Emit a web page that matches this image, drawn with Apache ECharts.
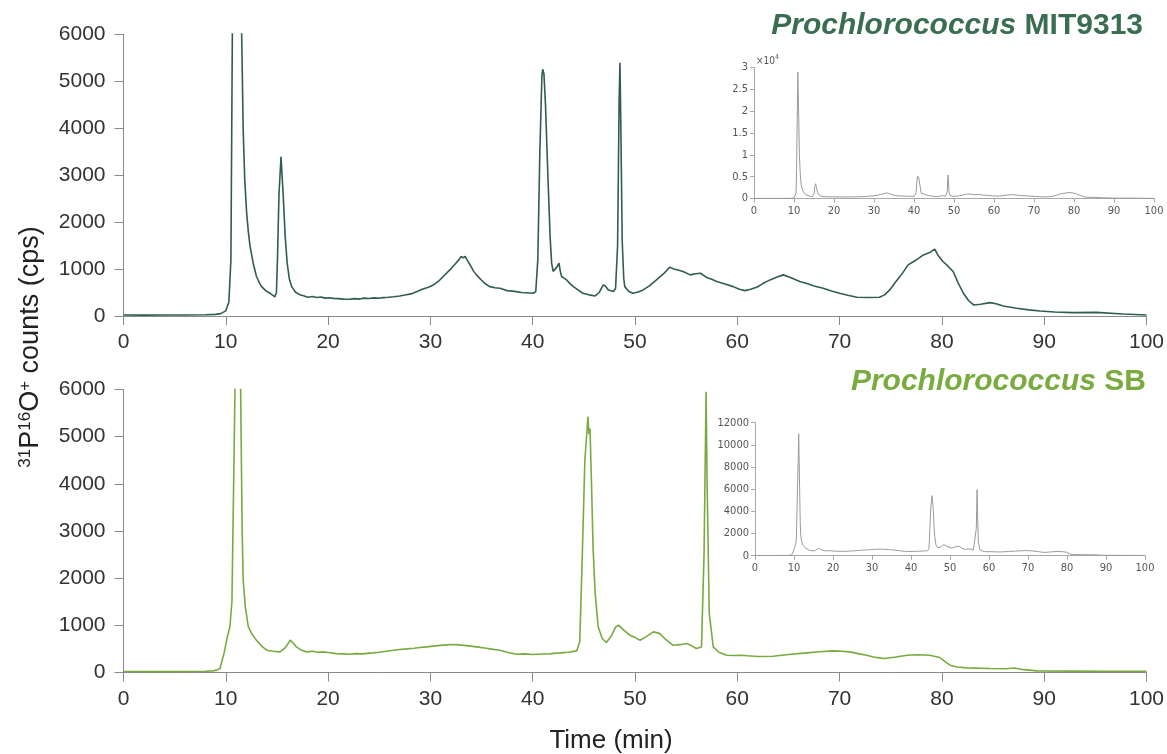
<!DOCTYPE html>
<html>
<head>
<meta charset="utf-8">
<script src="https://cdn.jsdelivr.net/npm/echarts@6/dist/echarts.min.js"></script>
<style>
html,body{margin:0;padding:0;background:#fff;}
#chart{width:1167px;height:754px;}
</style>
</head>
<body>
<div id="chart"></div>
<script>
// ---- Data ----
// Prochlorococcus MIT9313: retention time (min) and 31P16O+ counts (cps)
const timeMIT = [0,2,4,6,8,9,9.5,10,10.3,10.5,10.64,10.8,10.95,11.15,11.35,11.55,11.7,11.85,12.04,12.2,12.37,12.7,13.0,13.3,13.5,13.9,14.3,14.6,14.8,14.95,15.05,15.2,15.4,15.5,15.62,15.8,16.0,16.2,16.44,16.8,17.25,17.6,18.0,18.5,18.9,19.3,19.7,20.1,20.5,21.0,21.5,22.1,22.6,23.1,23.5,24.0,24.5,25.0,25.4,25.9,26.4,27.0,27.5,28.1,28.7,29.2,29.8,30.3,30.8,31.3,31.9,32.4,32.8,33.0,33.2,33.4,33.6,33.9,34.2,34.5,35.0,35.4,35.8,36.3,36.8,37.5,38.0,38.4,38.9,39.4,40.06,40.3,40.5,40.7,40.9,40.98,41.1,41.25,41.5,41.7,41.85,42.0,42.18,42.4,42.57,42.7,42.83,43.1,43.3,43.6,43.97,44.4,44.9,45.5,46.1,46.5,46.9,47.1,47.4,47.9,48.1,48.3,48.45,48.53,48.62,48.75,48.9,49.0,49.4,49.8,50.3,50.8,51.4,52.1,52.8,53.4,53.8,54.2,54.7,55.4,55.9,56.4,57.0,57.5,58.0,58.8,59.6,60.2,60.75,61.3,61.9,62.5,63.2,63.9,64.5,65.2,66.1,66.8,67.5,68.4,69.2,70.0,70.8,71.7,72.8,73.9,74.4,74.9,75.4,75.9,76.3,76.7,77.4,78.2,78.8,79.3,79.6,80.1,80.6,81.1,81.6,82.1,82.6,83.1,83.8,84.7,85.3,86.0,87.3,88.5,89.6,91.0,92.8,95.1,97.7,100];
const countsMIT = [20,18,22,20,25,35,50,110,300,1200,6000,18000,29000,20000,10000,6000,3970,2900,2190,1800,1480,1100,840,700,625,540,485,440,410,500,1200,2600,3385,3000,2545,1700,1125,800,625,510,450,430,400,415,395,405,380,390,375,370,360,356,370,360,380,372,385,378,391,400,410,426,445,470,520,570,610,660,740,850,980,1100,1200,1265,1240,1270,1190,1080,960,875,760,680,625,600,590,540,530,519,500,495,484,520,1200,3500,5100,5250,5150,4500,2900,1700,1125,950,910,1050,1125,950,840,800,770,700,625,560,484,450,426,500,660,640,555,519,590,1500,4600,5390,4000,1600,800,625,520,484,510,555,640,768,900,1040,1000,980,946,875,900,910,820,780,732,680,625,570,540,570,612,690,768,830,875,820,732,690,640,590,530,484,440,400,395,399,450,555,700,838,960,1088,1180,1300,1350,1422,1300,1160,1060,946,700,484,330,235,250,284,260,213,164,130,107,85,71,78,43,21];

// Prochlorococcus SB
const timeSB = [0,3,6,8,8.75,9.1,9.43,9.82,10.15,10.4,10.6,10.9,11.1,11.2,11.3,11.45,11.6,11.7,11.9,12.2,12.6,13.0,13.5,14.0,14.6,15.3,15.8,16.3,16.6,16.9,17.4,17.9,18.5,19.0,19.5,20.2,20.8,21.5,22.1,22.7,23.4,24.0,24.4,25.0,25.7,26.4,27.0,27.7,28.4,29.0,29.6,30.3,31.0,31.6,32.2,32.8,33.5,34.5,35.3,36.0,36.8,37.5,38.4,39.2,40.0,40.8,41.7,42.2,42.7,43.5,44.3,44.6,44.85,45.1,45.3,45.4,45.5,45.6,45.75,45.9,46.1,46.4,46.8,47.2,47.7,48.1,48.4,48.9,49.5,50.0,50.5,51.1,51.8,52.4,53.0,53.7,54.4,55.05,55.5,56.0,56.5,56.75,56.95,57.05,57.26,57.65,58.2,58.96,59.7,60.3,61.0,62.0,63.5,65.0,66.8,68.0,69.4,70.2,71.0,71.8,72.65,73.5,74.4,75.5,76.6,77.7,78.8,79.8,80.3,80.8,81.5,82.4,84.7,86.3,87.1,88.0,89.3,92.8,96,100];
const countsSB = [20,18,22,25,35,50,85,400,755,970,1500,6000,9000,11000,9000,6000,3000,1960,1400,970,800,685,560,473,450,437,520,685,620,543,470,437,450,430,437,420,400,395,388,400,395,410,416,430,450,470,487,500,515,530,543,560,575,585,594,585,570,543,520,495,473,430,388,395,380,392,395,410,416,430,458,650,2500,4500,5100,5419,5050,5173,4000,2663,1700,967,720,636,780,960,1003,900,791,740,685,760,861,830,700,579,590,615,570,509,540,2500,5950,4000,1251,543,430,367,360,367,355,340,346,380,416,440,458,450,437,400,367,320,297,330,367,375,367,318,230,155,115,98,85,80,95,60,34,30,28,25];

// Axis tick labels
const insetMITTicks = ['0','0.5','1','1.5','2','2.5','3'];

const titleMIT = ['Prochlorococcus', 'MIT9313'];
const titleSB = ['Prochlorococcus', 'SB'];

// ---- Styling ----
const FONT = '"Liberation Sans", Arial, Helvetica, sans-serif';
const NARROW = '"Liberation Sans Narrow", "Arial Narrow", "DejaVu Sans Condensed", "Liberation Sans", sans-serif';
const colMIT = '#2f5e4b';
const colSB = '#79aa40';
const titleColMIT = '#3b6e50';
const titleColSB = '#7aab3e';
const plain = (v) => String(v);

const zip = (t, v) => t.map((x, i) => [x, v[i]]);
const dataMIT = zip(timeMIT, countsMIT);
const dataSB = zip(timeSB, countsSB);

function mainX(gi) {
  return {
    type: 'value', gridIndex: gi, min: 0, max: 100, interval: 10,
    axisLine: { show: true, lineStyle: { color: '#8a8a8a', width: 1 } },
    axisTick: { show: true, length: 9, lineStyle: { color: '#8a8a8a' } },
    axisLabel: { margin: 16, fontSize: 21, color: '#333', fontFamily: FONT, formatter: plain },
    splitLine: { show: false }
  };
}
function mainY(gi) {
  return {
    type: 'value', gridIndex: gi, min: 0, max: 6000, interval: 1000,
    axisLine: { show: true, lineStyle: { color: '#8a8a8a', width: 1 } },
    axisTick: { show: true, length: 9, lineStyle: { color: '#8a8a8a' } },
    axisLabel: { margin: 18, fontSize: 21, color: '#333', fontFamily: FONT, formatter: plain },
    splitLine: { show: false }
  };
}
function insetX(gi) {
  return {
    type: 'value', gridIndex: gi, min: 0, max: 100, interval: 10,
    axisLine: { show: true, onZero: false, lineStyle: { color: '#a8a8a8', width: 1 } },
    axisTick: { show: true, length: 4, lineStyle: { color: '#a8a8a8' } },
    axisLabel: { margin: 7, fontSize: 11, color: '#555', fontFamily: NARROW, formatter: plain },
    splitLine: { show: false }
  };
}

const option = {
  animation: false,
  backgroundColor: '#fff',
  grid: [
    { left: 123.5, right: 20.5, top: 34, height: 282 },
    { left: 123.5, right: 20.5, top: 389.5, height: 283 },
    { left: 754, width: 400, top: 67.5, height: 131 },
    { left: 755, width: 390, top: 422.7, height: 133 }
  ],
  xAxis: [mainX(0), mainX(1), insetX(2), insetX(3)],
  yAxis: [
    mainY(0), mainY(1),
    {
      type: 'value', gridIndex: 2, min: 0, max: 30000, interval: 5000,
      name: '{a|×10}{s|4}', nameLocation: 'end', nameGap: 1,
      nameTextStyle: { align: 'left', verticalAlign: 'bottom', padding: [0, 0, 0, 2],
        rich: { a: { fontSize: 10, color: '#555', fontFamily: NARROW, padding: [3, 0, 0, 0] },
                s: { fontSize: 7, color: '#555', fontFamily: NARROW, padding: [0, 0, 6, 0] } } },
      axisLine: { show: true, lineStyle: { color: '#a8a8a8', width: 1 } },
      axisTick: { show: true, length: 4, lineStyle: { color: '#a8a8a8' } },
      axisLabel: { margin: 6, fontSize: 11, color: '#555', fontFamily: NARROW,
        formatter: (v) => insetMITTicks[Math.round(v / 5000)] },
      splitLine: { show: false }
    },
    {
      type: 'value', gridIndex: 3, min: 0, max: 12000, interval: 2000,
      axisLine: { show: true, lineStyle: { color: '#a8a8a8', width: 1 } },
      axisTick: { show: true, length: 4, lineStyle: { color: '#a8a8a8' } },
      axisLabel: { margin: 6, fontSize: 11, color: '#555', fontFamily: NARROW, formatter: plain },
      splitLine: { show: false }
    }
  ],
  series: [
    { type: 'line', xAxisIndex: 0, yAxisIndex: 0, data: dataMIT, showSymbol: false, clip: true,
      lineStyle: { color: colMIT, width: 1.6 } },
    { type: 'line', xAxisIndex: 1, yAxisIndex: 1, data: dataSB, showSymbol: false, clip: true,
      lineStyle: { color: colSB, width: 1.6 } },
    { type: 'line', xAxisIndex: 2, yAxisIndex: 2, data: dataMIT, showSymbol: false, clip: true,
      lineStyle: { color: '#9a9a9a', width: 1 } },
    { type: 'line', xAxisIndex: 3, yAxisIndex: 3, data: dataSB, showSymbol: false, clip: true,
      lineStyle: { color: '#9a9a9a', width: 1 } }
  ],
  graphic: [
    { type: 'text', x: 1143, y: 26, z: 100,
      style: { text: '{i|' + titleMIT[0] + '}{b| ' + titleMIT[1] + '}', align: 'right', verticalAlign: 'middle',
        rich: { i: { fontSize: 30, fontWeight: 'bold', fontStyle: 'italic', fill: titleColMIT, fontFamily: FONT },
                b: { fontSize: 30, fontWeight: 'bold', fill: titleColMIT, fontFamily: FONT } } } },
    { type: 'text', x: 1146, y: 382, z: 100,
      style: { text: '{i|' + titleSB[0] + '}{b| ' + titleSB[1] + '}', align: 'right', verticalAlign: 'middle',
        rich: { i: { fontSize: 30, fontWeight: 'bold', fontStyle: 'italic', fill: titleColSB, fontFamily: FONT },
                b: { fontSize: 30, fontWeight: 'bold', fill: titleColSB, fontFamily: FONT } } } },
    { type: 'text', x: 611, y: 741, z: 100,
      style: { text: 'Time (min)', fontSize: 26, fill: '#222', fontFamily: FONT, align: 'center', verticalAlign: 'middle' } },
    { type: 'text', x: 31, y: 347, rotation: Math.PI / 2, z: 100,
      style: { text: '{s|31}{m|P}{s|16}{m|O}{s|+}{m| counts (cps)}', align: 'center', verticalAlign: 'middle',
        rich: { m: { fontSize: 27, fill: '#222', fontFamily: FONT },
                s: { fontSize: 17, fill: '#222', fontFamily: FONT, padding: [0, 0, 12, 0] } } } }
  ]
};

const chart = echarts.init(document.getElementById('chart'), null, { renderer: 'canvas' });
chart.setOption(option);
</script>
</body>
</html>
